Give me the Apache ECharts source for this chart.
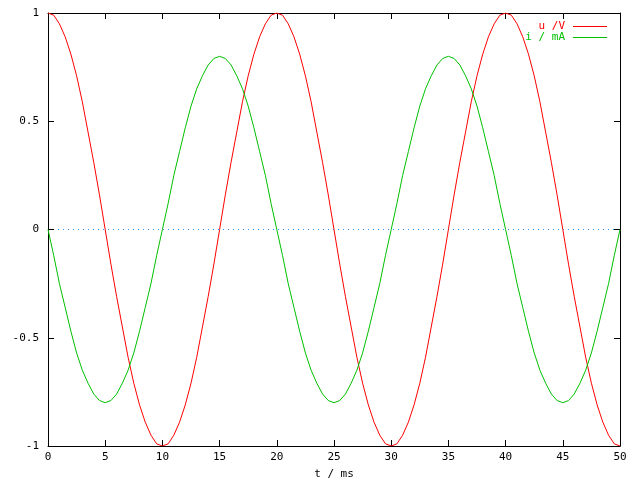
<!DOCTYPE html>
<html>
<head>
<meta charset="utf-8">
<script src="https://cdn.jsdelivr.net/npm/echarts@6/dist/echarts.min.js"></script>
<style>html,body{margin:0;padding:0;background:#fff}#c{width:640px;height:480px}</style>
</head>
<body>
<div id="c"></div>
<script>
var T = [0,0.5,1,1.5,2,2.5,3,3.5,4,4.5,5,5.5,6,6.5,7,7.5,8,8.5,9,9.5,10,10.5,11,11.5,12,12.5,13,13.5,14,14.5,15,15.5,16,16.5,17,17.5,18,18.5,19,19.5,20,20.5,21,21.5,22,22.5,23,23.5,24,24.5,25,25.5,26,26.5,27,27.5,28,28.5,29,29.5,30,30.5,31,31.5,32,32.5,33,33.5,34,34.5,35,35.5,36,36.5,37,37.5,38,38.5,39,39.5,40,40.5,41,41.5,42,42.5,43,43.5,44,44.5,45,45.5,46,46.5,47,47.5,48,48.5,49,49.5,50];
var U = [1,0.99,0.95,0.89,0.81,0.71,0.59,0.45,0.31,0.16,0,-0.16,-0.31,-0.45,-0.59,-0.71,-0.81,-0.89,-0.95,-0.99,-1,-0.99,-0.95,-0.89,-0.81,-0.71,-0.59,-0.45,-0.31,-0.16,0,0.16,0.31,0.45,0.59,0.71,0.81,0.89,0.95,0.99,
         1,0.99,0.95,0.89,0.81,0.71,0.59,0.45,0.31,0.16,0,-0.16,-0.31,-0.45,-0.59,-0.71,-0.81,-0.89,-0.95,-0.99,-1,-0.99,-0.95,-0.89,-0.81,-0.71,-0.59,-0.45,-0.31,-0.16,0,0.16,0.31,0.45,0.59,0.71,0.81,0.89,0.95,0.99,
         1,0.99,0.95,0.89,0.81,0.71,0.59,0.45,0.31,0.16,0,-0.16,-0.31,-0.45,-0.59,-0.71,-0.81,-0.89,-0.95,-0.99,-1];
var I = [0,-0.12,-0.25,-0.36,-0.47,-0.57,-0.65,-0.71,-0.76,-0.79,-0.8,-0.79,-0.76,-0.71,-0.65,-0.57,-0.47,-0.36,-0.25,-0.12,0,0.12,0.25,0.36,0.47,0.57,0.65,0.71,0.76,0.79,0.8,0.79,0.76,0.71,0.65,0.57,0.47,0.36,0.25,0.12,
         0,-0.12,-0.25,-0.36,-0.47,-0.57,-0.65,-0.71,-0.76,-0.79,-0.8,-0.79,-0.76,-0.71,-0.65,-0.57,-0.47,-0.36,-0.25,-0.12,0,0.12,0.25,0.36,0.47,0.57,0.65,0.71,0.76,0.79,0.8,0.79,0.76,0.71,0.65,0.57,0.47,0.36,0.25,0.12,
         0,-0.12,-0.25,-0.36,-0.47,-0.57,-0.65,-0.71,-0.76,-0.79,-0.8,-0.79,-0.76,-0.71,-0.65,-0.57,-0.47,-0.36,-0.25,-0.12,0];
var seriesNames = ['u /V', 'i / mA'];
var xTicks = [0,5,10,15,20,25,30,35,40,45,50];
var yTicks = [-1,-0.5,0,0.5,1];
var xName = 't / ms';

var FONT = 'DejaVu Sans Mono';
var RED = '#ff0000', GREEN = '#00c000', ZERO = '#2090ff';
function pairs(ys){ return T.map(function(t,k){ return [t, ys[k]]; }); }
var axLine = {show:true, onZero:false, lineStyle:{color:'#000', width:1}};
var tick = {show:true, inside:true, length:6, lineStyle:{color:'#000', width:1}};
var chart = echarts.init(document.getElementById('c'), null, {renderer:'canvas'});
chart.setOption({
  animation:false,
  backgroundColor:'#fff',
  grid:{left:48, right:20, top:13, bottom:34, containLabel:false, outerBoundsMode:'none'},
  legend:{
    orient:'vertical', right:33, top:21, align:'right', itemGap:0, padding:0,
    itemWidth:34, itemHeight:1, icon:'rect',
    textStyle:{fontFamily:FONT, fontSize:11, lineHeight:11, padding:[0,3,0,0]},
    data:[
      {name:seriesNames[0], textStyle:{color:RED}, itemStyle:{color:RED}},
      {name:seriesNames[1], textStyle:{color:GREEN}, itemStyle:{color:GREEN}}
    ]
  },
  xAxis:[
    {type:'value', min:xTicks[0], max:xTicks[xTicks.length-1], interval:5, position:'bottom',
     name:xName, nameLocation:'middle', nameGap:23,
     nameTextStyle:{fontFamily:FONT, fontSize:11, color:'#000'},
     axisLine:axLine, axisTick:tick, splitLine:{show:false},
     axisLabel:{fontFamily:FONT, fontSize:11, color:'#000', margin:6}},
    {type:'value', min:xTicks[0], max:xTicks[xTicks.length-1], interval:5, position:'top',
     axisLine:axLine, axisTick:tick, splitLine:{show:false}, axisLabel:{show:false}}
  ],
  yAxis:[
    {type:'value', min:yTicks[0], max:yTicks[yTicks.length-1], interval:0.5, position:'left',
     axisLine:axLine, axisTick:tick, splitLine:{show:false},
     axisLabel:{fontFamily:FONT, fontSize:11, color:'#000', margin:9}},
    {type:'value', min:yTicks[0], max:yTicks[yTicks.length-1], interval:0.5, position:'right',
     axisLine:axLine, axisTick:tick, axisLabel:{show:false},
     splitLine:{show:true, lineStyle:{width:1, type:[1,4],
       color:['rgba(0,0,0,0)','rgba(0,0,0,0)',ZERO,'rgba(0,0,0,0)','rgba(0,0,0,0)']}}}
  ],
  series:[
    {name:seriesNames[0], type:'line', data:pairs(U), showSymbol:false, symbol:'none',
     lineStyle:{color:RED, width:1}, itemStyle:{color:RED}},
    {name:seriesNames[1], type:'line', data:pairs(I), showSymbol:false, symbol:'none',
     lineStyle:{color:GREEN, width:1}, itemStyle:{color:GREEN}}
  ]
});
</script>
</body>
</html>
